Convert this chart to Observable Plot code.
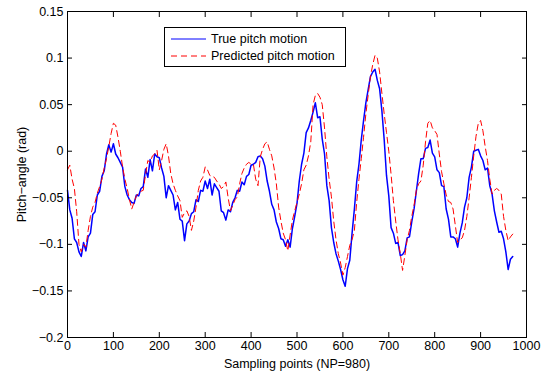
<!DOCTYPE html>
<html><head><meta charset="utf-8">
<script src="https://cdn.jsdelivr.net/npm/d3@7"></script>
<script src="https://cdn.jsdelivr.net/npm/@observablehq/plot@0.6"></script>
<style>
body{margin:0;background:#fff;}
#wrap{position:relative;width:548px;height:376px;font-family:"Liberation Sans",Arial,Helvetica,sans-serif;}
#legend{position:absolute;left:164px;top:27px;width:180px;height:38px;border:1px solid #000;background:#fff;font-size:12.5px;color:#000;}
#legend .row{position:absolute;left:0;height:16px;display:flex;align-items:center;}
#legend svg{margin-left:6px;margin-right:5px;}
</style>
</head><body>
<div id="wrap"></div>
<script>
const sampleStep = 5;
const seriesNames = ["True pitch motion", "Predicted pitch motion"];
const seriesColors = ["#0000ff", "#ff0000"];
const xTicks = [0,100,200,300,400,500,600,700,800,900,1000];
const yTicks = [-0.2,-0.15,-0.1,-0.05,0,0.05,0.1,0.15];
const xLabel = "Sampling points (NP=980)";
const yLabel = "Pitch\u2212angle (rad)";

const truePitch = [
-0.042,-0.063,-0.072,-0.094,-0.098,-0.108,-0.113,-0.098,-0.107,-0.092,
-0.088,-0.068,-0.065,-0.047,-0.043,-0.027,-0.021,-0.003,0.007,-0.001,
0.008,-0.003,-0.007,-0.012,-0.017,-0.038,-0.047,-0.052,-0.055,-0.056,
-0.047,-0.048,-0.040,-0.038,-0.019,-0.028,-0.009,-0.021,-0.003,-0.006,
-0.007,-0.018,-0.027,-0.050,-0.037,-0.042,-0.047,-0.063,-0.055,-0.073,
-0.075,-0.096,-0.078,-0.075,-0.067,-0.065,-0.052,-0.054,-0.042,-0.043,
-0.032,-0.040,-0.030,-0.047,-0.035,-0.039,-0.043,-0.064,-0.066,-0.074,
-0.063,-0.065,-0.055,-0.050,-0.042,-0.043,-0.033,-0.036,-0.027,-0.025,
-0.015,-0.014,-0.012,-0.006,-0.005,-0.008,-0.016,-0.032,-0.043,-0.057,
-0.063,-0.076,-0.083,-0.094,-0.095,-0.102,-0.095,-0.103,-0.083,-0.070,
-0.056,-0.032,-0.014,-0.002,0.020,0.025,0.033,0.042,0.052,0.036,
0.037,0.013,-0.003,-0.037,-0.053,-0.082,-0.098,-0.110,-0.118,-0.127,
-0.138,-0.145,-0.126,-0.117,-0.088,-0.062,-0.033,-0.014,0.012,0.033,
0.052,0.066,0.080,0.085,0.088,0.076,0.067,0.043,0.012,-0.026,
-0.048,-0.082,-0.088,-0.099,-0.098,-0.112,-0.111,-0.107,-0.093,-0.092,
-0.076,-0.062,-0.043,-0.024,-0.008,-0.008,0.003,0.004,0.012,-0.002,
-0.006,-0.020,-0.023,-0.037,-0.038,-0.062,-0.073,-0.092,-0.092,-0.094,
-0.103,-0.088,-0.077,-0.060,-0.050,-0.028,-0.017,0.000,0.001,0.002,
-0.005,-0.010,-0.020,-0.018,-0.037,-0.046,-0.064,-0.076,-0.087,-0.086,
-0.094,-0.108,-0.127,-0.116,-0.113
];

const predPitch = [
-0.020,-0.015,-0.030,-0.040,-0.065,-0.100,-0.108,-0.100,-0.103,-0.085,
-0.070,-0.060,-0.055,-0.045,-0.038,-0.030,-0.018,-0.008,0.005,0.019,
0.030,0.028,0.015,0.000,-0.017,-0.030,-0.040,-0.052,-0.062,-0.055,
-0.048,-0.045,-0.043,-0.042,-0.025,-0.010,-0.012,-0.005,-0.003,0.001,
-0.020,-0.010,0.002,0.008,-0.005,-0.024,-0.035,-0.042,-0.048,-0.053,
-0.071,-0.066,-0.064,-0.070,-0.085,-0.075,-0.060,-0.042,-0.032,-0.028,
-0.017,-0.020,-0.026,-0.027,-0.028,-0.032,-0.035,-0.040,-0.038,-0.033,
-0.050,-0.064,-0.058,-0.052,-0.049,-0.035,-0.024,-0.018,-0.014,-0.012,
-0.014,-0.014,-0.030,-0.037,-0.006,0.002,0.008,0.010,0.002,-0.005,
-0.018,-0.035,-0.060,-0.075,-0.088,-0.095,-0.107,-0.090,-0.074,-0.064,
-0.055,-0.046,-0.035,-0.020,-0.015,-0.005,0.010,0.050,0.060,0.062,
0.058,0.050,0.025,-0.006,-0.030,-0.049,-0.075,-0.095,-0.110,-0.120,
-0.133,-0.125,-0.113,-0.101,-0.095,-0.085,-0.055,-0.030,-0.008,0.015,
0.040,0.060,0.080,0.093,0.103,0.100,0.085,0.062,0.040,0.020,
0.000,-0.025,-0.053,-0.075,-0.095,-0.110,-0.128,-0.112,-0.095,-0.085,
-0.070,-0.058,-0.042,-0.035,-0.032,-0.015,0.010,0.030,0.033,0.025,
0.022,0.018,-0.003,-0.022,-0.035,-0.047,-0.054,-0.055,-0.062,-0.080,
-0.098,-0.095,-0.093,-0.085,-0.070,-0.050,-0.028,-0.005,0.016,0.030,
0.033,0.022,0.005,-0.010,-0.030,-0.046,-0.042,-0.040,-0.042,-0.046,
-0.070,-0.085,-0.096,-0.092,-0.089
];

const toRows = vals => vals.map((v, i) => ({x: i * sampleStep, y: v}));
const fmtY = d => (Math.abs(d) < 1e-9 ? "0" : String(+d.toFixed(2))).replace("-", "\u2212");

const chart = Plot.plot({
  width: 548, height: 376,
  marginLeft: 67, marginRight: 22, marginTop: 11, marginBottom: 39,
  style: {fontFamily: "'Liberation Sans', Arial, Helvetica, sans-serif", fontSize: "12.5px", background: "white", color: "black", overflow: "visible"},
  x: {domain: [0, 1000]},
  y: {domain: [-0.2, 0.15]},
  marks: [
    Plot.line(toRows(truePitch), {x: "x", y: "y", stroke: seriesColors[0], strokeWidth: 1.5}),
    Plot.line(toRows(predPitch), {x: "x", y: "y", stroke: seriesColors[1], strokeWidth: 1, strokeDasharray: "6,4"}),
    Plot.frame({stroke: "black", strokeWidth: 1}),
    Plot.axisX({ticks: xTicks, tickSize: -5, tickPadding: 9, tickFormat: d => String(d), label: xLabel, labelAnchor: "center", labelOffset: 30, labelArrow: false}),
    Plot.axisX({anchor: "top", ticks: xTicks, tickSize: -5, tickFormat: () => "", label: null}),
    Plot.axisY({ticks: yTicks, tickSize: -5, tickPadding: 9, tickFormat: fmtY, label: yLabel, labelAnchor: "center", labelOffset: 50, labelArrow: false}),
    Plot.axisY({anchor: "right", ticks: yTicks, tickSize: -5, tickFormat: () => "", label: null})
  ]
});
const wrap = document.getElementById("wrap");
wrap.appendChild(chart);

// legend overlay
const legend = document.createElement("div");
legend.id = "legend";
seriesNames.forEach((name, i) => {
  const row = document.createElement("div");
  row.className = "row";
  row.style.top = (3 + i * 17) + "px";
  const dash = i === 1 ? 'stroke-dasharray="6,4"' : "";
  row.innerHTML = `<svg width="35" height="6"><line x1="0" y1="3" x2="35" y2="3" stroke="${seriesColors[i]}" stroke-width="1" ${dash}/></svg><span>${name}</span>`;
  legend.appendChild(row);
});
wrap.appendChild(legend);
</script>
</body></html>
